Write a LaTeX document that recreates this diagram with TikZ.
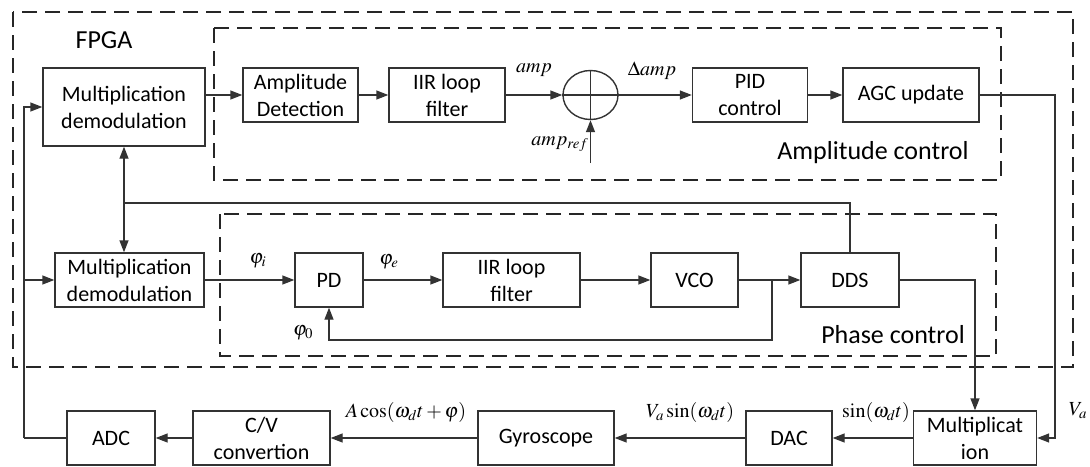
\documentclass[tikz,border=0pt]{standalone}
\usepackage{mathptmx}
\usepackage{fontspec}
\setmainfont{Carlito}
\usetikzlibrary{arrows.meta,calc,shapes.geometric}
\begin{document}
\begin{tikzpicture}[x=1pt,y=-1pt,
  box/.style={draw=black!80,line width=1.4pt,minimum height=54pt,inner sep=0pt,align=center,font=\fontsize{22}{27}\selectfont},
  arr/.style={line width=1.4pt,draw=black!80,-{Triangle[length=12pt,width=9pt]}},
  ln/.style={line width=1.4pt,draw=black!80},
  grp/.style={line width=2pt,draw=black!85,dash pattern=on 15pt off 8pt},
  lbl/.style={font=\fontsize{26}{30}\selectfont},
  mlbl/.style={inner sep=0pt,font=\fontsize{20}{24}\selectfont}]
\useasboundingbox (0,0) rectangle (1090,466);
% groups
\draw[grp] (13,12) rectangle (1073,367);
\draw[grp] (214,28) rectangle (1001,180);
\draw[grp] (220,214) rectangle (996,356);
% top row
\node[box,minimum width=162pt,minimum height=78pt] (md1) at (124,107) {Multiplication\\demodulation};
\node[box,minimum width=115pt] (ad) at (300.5,95) {Amplitude\\Detection};
\node[box,minimum width=116pt] (iir1) at (447,95) {IIR loop\\filter};
\node[ellipse,draw=black!80,line width=1.4pt,minimum width=55pt,minimum height=49pt,inner sep=0pt] (sum) at (590.5,95) {};
\node[box,minimum width=115pt] (pid) at (750,95) {PID\\control};
\node[box,minimum width=136pt] (agc) at (911,95) {AGC update};
% middle row
\node[box,minimum width=149pt] (md2) at (129.5,280) {Multiplication\\demodulation};
\node[box,minimum width=68pt] (pd) at (329,280) {PD};
\node[box,minimum width=137pt] (iir2) at (511.5,280) {IIR loop\\filter};
\node[box,minimum width=87pt] (vco) at (694.5,280) {VCO};
\node[box,minimum width=98pt] (dds) at (850,280) {DDS};
% bottom row
\node[box,minimum width=88pt] (adc) at (111,438) {ADC};
\node[box,minimum width=137pt] (cv) at (261.5,438) {C/V\\convertion};
\node[box,minimum width=136pt] (gyro) at (546,438) {Gyroscope};
\node[box,minimum width=86pt] (dac) at (789,438) {DAC};
\node[box,minimum width=123pt] (mult) at (975,438) {Multiplicat\\ion};
% top connections
\draw[arr] (md1.east |- ad.west) -- (ad.west);
\draw[arr] (ad) -- (iir1);
\draw[arr] (iir1) -- (sum);
\draw[arr] (sum) -- (pid);
\draw[arr] (pid) -- (agc);
\draw[ln] (sum.north) -- (sum.south) (sum.west) -- (sum.east);
\coordinate (ref) at (590.5,163);
\draw[arr] (ref) -- (sum.south);
\coordinate (r1) at (1055,95);
\draw[arr] (agc.east) -- (r1) |- (mult.east);
% bus
\coordinate (b1) at (850,203);
\coordinate (b2) at (124,203);
\draw[ln] (dds.north) -- (b1) -- (b2);
\draw[arr] (b2) -- (md1.south);
\draw[arr] (b2) -- (b2 |- md2.north);
% left feed
\coordinate (lx) at (24,438);
\draw[ln] (adc.west) -- (lx);
\draw[arr] (lx) |- (md1.west);
\draw[arr] (lx |- md2.west) -- (md2.west);
% middle connections
\draw[arr] (md2) -- (pd);
\draw[arr] (pd) -- (iir2);
\draw[arr] (iir2) -- (vco);
\draw[arr] (vco) -- (dds);
\coordinate (fb) at (772,280);
\coordinate (fb2) at (772,340);
\draw[arr] (fb) -- (fb2) -| (pd.south);
\coordinate (d1) at (975,280);
\draw[arr] (dds.east) -- (d1) -- (mult.north);
% bottom connections
\draw[arr] (mult) -- (dac);
\draw[arr] (dac) -- (gyro);
\draw[arr] (gyro) -- (cv);
\draw[arr] (cv) -- (adc);
% labels
\node[lbl] (fpga) at (104,40) {FPGA};
\node[lbl] (actl) at (873,153) {Amplitude control};
\node[lbl] (pctl) at (893,335) {Phase control};
\node[mlbl] (lamp) at (534,70) {$amp$};
\node[mlbl] (ldamp) at (652,71) {$\Delta amp$};
\node[mlbl] (lref) at (560,144) {$amp_{ref}$};
\node[mlbl] (lphi) at (258,261) {$\varphi_i$};
\node[mlbl] (lphe) at (389,262) {$\varphi_e$};
\node[mlbl] (lph0) at (303,333) {$\varphi_0$};
\node[mlbl] (lacos) at (406,412) {$A\cos(\omega_d t+\varphi)$};
\node[mlbl] (lvsin) at (690,412) {$V_a\sin(\omega_d t)$};
\node[mlbl] (lsin) at (876,412) {$\sin(\omega_d t)$};
\node[mlbl] (lva) at (1078,411) {$V_a$};
\end{tikzpicture}
\end{document}
